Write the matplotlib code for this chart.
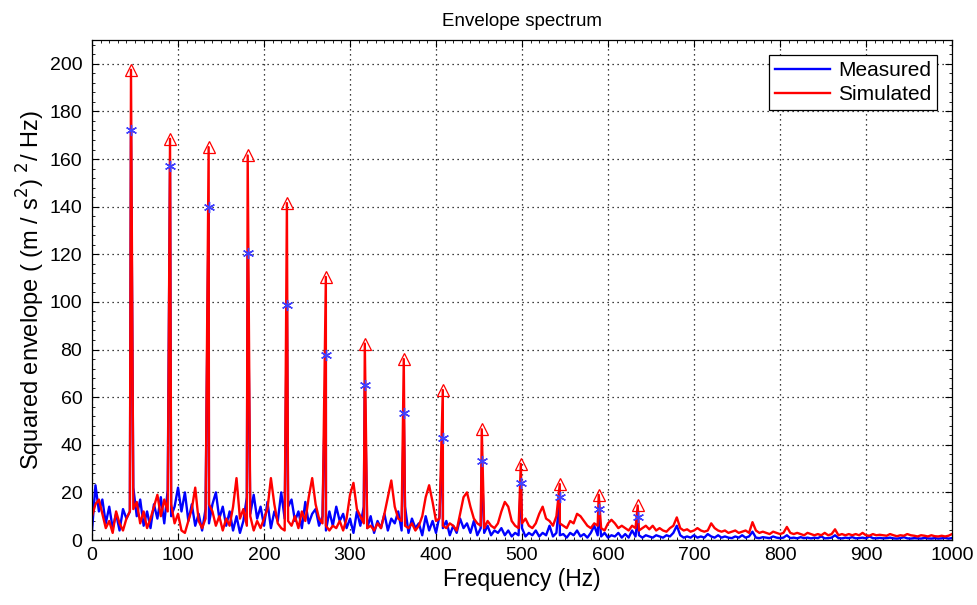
import numpy as np
import matplotlib
matplotlib.use("Agg")
import matplotlib.pyplot as plt
from matplotlib.ticker import MultipleLocator

plt.rcParams["font.family"] = ["Liberation Sans", "DejaVu Sans"]

# baseline spectrum, sampled every 4 Hz from 0 to 1000 Hz
baseStep = 4
measuredBase = [
    4, 23, 12, 17, 7, 14, 5, 11, 4, 13,
    9, 12, 22, 10, 17, 6, 12, 5, 15, 9,
    18, 7, 21, 10, 14, 22, 12, 20, 8, 15,
    6, 11, 4, 13, 7, 15, 20, 9, 14, 6,
    12, 4, 10, 3, 8, 18, 11, 19, 9, 14,
    6, 16, 5, 12, 8, 20, 9, 14, 17, 8,
    12, 5, 16, 7, 11, 13, 6, 10, 4, 12,
    6, 14, 8, 11, 5, 9, 3, 12, 6, 14,
    5, 10, 3, 8, 5, 11, 4, 9, 7, 12,
    4, 14, 3, 9, 5, 7, 2, 10, 4, 8,
    3, 10, 5, 8, 2, 6, 3, 9, 5, 7,
    3, 8, 2, 5, 3, 6, 2, 4, 3, 5,
    2, 4, 1.5, 3, 2, 5, 1.5, 3, 2, 4,
    1.5, 3, 2, 6, 1.5, 3, 2, 2.5, 1, 3,
    2, 4, 1.5, 2.5, 1, 3, 6, 2, 1.5, 3,
    1, 2, 1.5, 3, 1, 2.5, 1, 4, 1.5, 2,
    1, 2, 1.5, 1, 2, 1.5, 1, 2, 1.5, 3,
    6, 2, 1, 1.5, 1, 2, 1, 1.5, 1, 2.5,
    1.5, 1, 2, 1, 1.5, 1, 0.8, 1.5, 1, 2,
    1, 1.5, 3.5, 1, 0.8, 1.2, 1, 0.8, 1.5, 1,
    0.8, 1, 2, 0.8, 1, 0.7, 1.2, 0.8, 1, 0.7,
    1, 0.8, 1.5, 0.7, 0.8, 1, 2, 0.8, 0.7, 1,
    0.8, 1.2, 0.7, 0.8, 1, 0.7, 1.5, 0.8, 0.7, 0.9,
    0.7, 0.8, 1, 0.7, 0.6, 0.8, 1.2, 0.7, 0.6, 0.8,
    0.7, 0.6, 0.9, 0.7, 0.6, 0.8, 0.6, 0.7, 0.9, 0.6,
    0.8,
]
simulatedBase = [
    10, 15, 17, 11, 5, 8, 3, 12, 7, 4,
    9, 12, 13, 16, 7, 12, 5, 9, 14, 19,
    10, 17, 12, 15, 7, 11, 4, 3, 8, 13,
    22, 8, 5, 9, 15, 12, 6, 10, 4, 9,
    6, 14, 26, 9, 13, 6, 10, 4, 8, 5,
    9, 13, 26, 15, 7, 5, 4, 8, 6, 10,
    5, 12, 8, 18, 26, 15, 9, 7, 6, 4,
    6, 5, 8, 4, 9, 19, 24, 13, 10, 7,
    5, 6, 4, 7, 5, 11, 18, 25, 14, 9,
    8, 6, 5, 7, 4, 6, 10, 18, 23, 16,
    8, 9, 6, 5, 7, 6, 4, 11, 18, 20,
    14, 9, 7, 6, 5, 8, 6, 5, 7, 12,
    16, 14, 8, 6, 5, 7, 9, 6, 5, 7,
    11, 14, 9, 8, 6, 10, 7, 6, 5, 8,
    7, 11, 10, 8, 6, 5, 7, 6, 5, 4,
    7, 8.5, 7, 5, 6, 5, 4, 6, 5, 4,
    5, 6, 4.5, 6, 4, 5, 4, 3.5, 5, 6,
    9.5, 5, 4, 4.5, 3.5, 4, 5, 4, 3.5, 4,
    7, 5, 4, 3.5, 4, 3, 3.5, 4, 3, 3.5,
    4, 3, 7.5, 4, 3, 3.5, 3, 2.5, 3.5, 3,
    2.5, 3, 5.5, 3, 2.5, 3, 2.5, 2, 3, 2.5,
    2, 2.5, 2, 3, 2, 2.5, 4.5, 2, 2.5, 2,
    2.5, 2, 2.5, 2, 3, 2, 1.8, 2.5, 2, 2.2,
    2, 1.8, 2.5, 2, 1.6, 2, 1.8, 2.5, 2, 1.8,
    1.5, 2, 1.8, 1.5, 2, 1.6, 1.5, 1.8, 1.5, 1.8,
    2.5,
]

# harmonic peaks (Hz) and their heights
peakFreqs = [45.3, 90.7, 135.6, 181.0, 226.6, 271.9, 317.2,
             362.5, 407.9, 453.2, 498.6, 543.9, 589.2, 634.5]
measuredPeaks = [172, 157, 140, 120.5, 98.5, 77.5, 65,
                 53.5, 43, 33, 24, 18, 13, 9.5]
simulatedPeaks = [197.5, 168.5, 165, 161.5, 141.5, 110.5, 82.5,
                  76, 63, 46.5, 32, 23.5, 19, 14.5]

xTicks = list(range(0, 1001, 100))
yTicks = list(range(0, 201, 20))


def mergeSpectrum(baseVals, peakVals):
    baseFreqs = np.arange(len(baseVals)) * baseStep
    f = np.concatenate([baseFreqs, peakFreqs])
    v = np.concatenate([baseVals, peakVals])
    order = np.argsort(f, kind="stable")
    return f[order], v[order]


fMeas, vMeas = mergeSpectrum(measuredBase, measuredPeaks)
fSim, vSim = mergeSpectrum(simulatedBase, simulatedPeaks)

fig = plt.figure(figsize=(9.77, 6.05), dpi=100)
ax = fig.add_axes([0.0942, 0.1074, 0.8802, 0.8265])

ax.plot(fMeas, vMeas, color="#0000FF", linewidth=1.7, label="Measured")
ax.plot(fSim, vSim, color="#FF0000", linewidth=1.7, label="Simulated")

# peak markers
ax.plot(peakFreqs, simulatedPeaks, linestyle="none", marker="^",
        markersize=9, markerfacecolor="none", markeredgecolor="#FF0000",
        markeredgewidth=0.9)
ax.plot(peakFreqs, measuredPeaks, linestyle="none", marker=(6, 2, 0),
        markersize=8, markeredgecolor="#4040FF", markeredgewidth=1.0)

ax.set_xlim(0, 1000)
ax.set_ylim(0, 210)
ax.set_xticks(xTicks)
ax.set_yticks(yTicks)
ax.xaxis.set_minor_locator(MultipleLocator(10))
ax.yaxis.set_minor_locator(MultipleLocator(4))
ax.tick_params(which="both", direction="in", top=True, right=True,
               labelsize=14, colors="black")
ax.tick_params(which="major", length=5, width=0.8, pad=7)
ax.tick_params(axis="x", which="major", pad=5)
ax.tick_params(which="minor", length=2.5, width=0.6)
ax.grid(True, which="major", linestyle=(0, (1, 3)), color="black",
        linewidth=0.9)
for s in ax.spines.values():
    s.set_color("black")
    s.set_linewidth(0.9)

ax.set_title("Envelope spectrum", fontsize=13.5, pad=10)
ax.set_xlabel("Frequency (Hz)", fontsize=16.5, labelpad=3)
ax.set_ylabel(r"Squared envelope ( (m / s$^2$) $^2$/ Hz)", fontsize=17,
              labelpad=2)

leg = ax.legend(loc="upper right", fontsize=15, fancybox=False,
                framealpha=1, edgecolor="black", borderpad=0.3,
                handlelength=2.6, labelspacing=0.25, borderaxespad=0.7,
                handletextpad=0.4)
leg.get_frame().set_linewidth(0.9)

fig.savefig("out.png", dpi=100)
